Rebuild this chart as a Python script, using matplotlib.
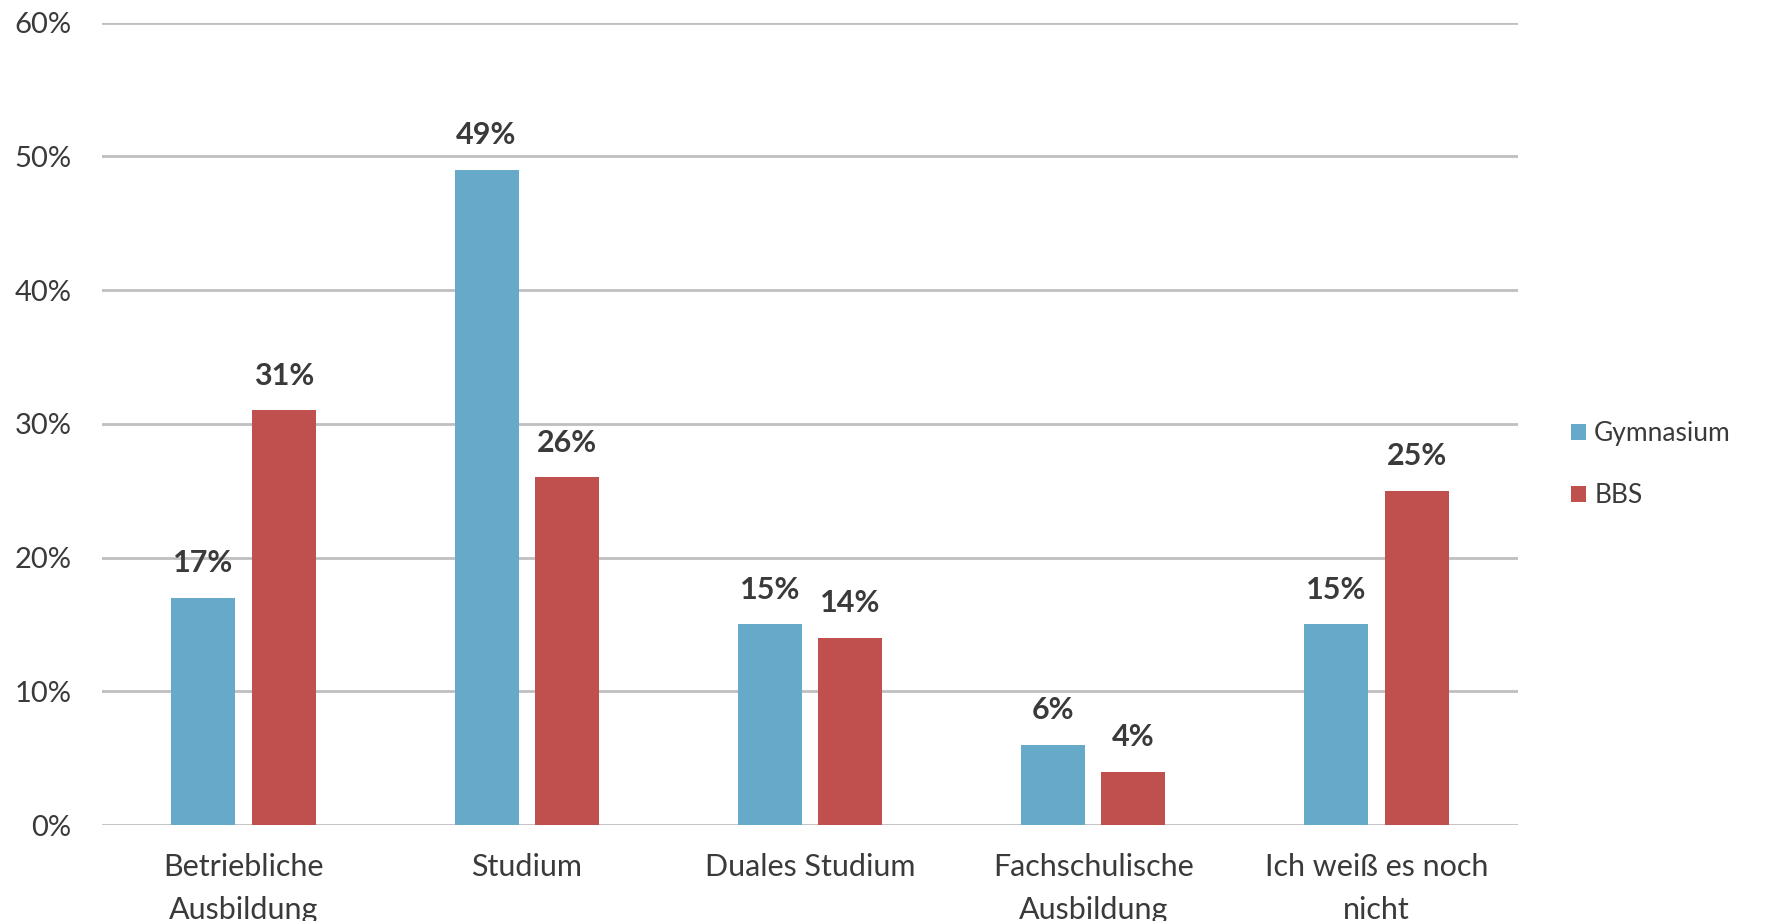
import matplotlib
matplotlib.use("Agg")
import matplotlib.pyplot as plt
import numpy as np

categories = ["Betriebliche\nAusbildung", "Studium", "Duales Studium",
              "Fachschulische\nAusbildung", "Ich weiß es noch\nnicht"]
gymnasium = [17, 49, 15, 6, 15]
bbs = [31, 26, 14, 4, 25]
series_names = ["Gymnasium", "BBS"]
yticks = [0, 10, 20, 30, 40, 50, 60]

plt.rcParams['font.family'] = ['Lato', 'DejaVu Sans']
text_color = '#3A3A3A'
blue = '#67A9C9'
red = '#C0504D'

fig = plt.figure(figsize=(17.79, 9.21), dpi=100)
ax = fig.add_axes([0.0573, 0.1042, 0.796, 0.8712])

x = np.arange(len(categories))
w = 0.226
off = 0.142
b1 = ax.bar(x - off, gymnasium, w, color=blue, label=series_names[0], zorder=3)
b2 = ax.bar(x + off, bbs, w, color=red, label=series_names[1], zorder=3)

for bars, vals in ((b1, gymnasium), (b2, bbs)):
    for r, v in zip(bars, vals):
        ax.annotate(f"{v}%", (r.get_x() + r.get_width() / 2, v),
                    xytext=(0, 25), textcoords='offset points',
                    ha='center', va='center', fontsize=22, fontweight='bold',
                    color=text_color)

ax.set_xlim(-0.5, len(categories) - 0.5)
ax.set_ylim(0, 60)
ax.set_yticks(yticks)
ax.set_yticklabels([f"{t}%" for t in yticks], fontsize=21, color=text_color)
ax.set_xticks(x)
ax.set_xticklabels(categories, fontsize=22, color=text_color, linespacing=1.65)
ax.tick_params(axis='both', length=0)
ax.tick_params(axis='y', pad=22)
ax.tick_params(axis='x', pad=20)
ax.grid(axis='y', color='#BFBFBF', linewidth=2, zorder=0)
for s in ax.spines.values():
    s.set_visible(False)

leg = ax.legend(loc='center left', bbox_to_anchor=(1.0374, 0.449), frameon=False,
                fontsize=19, handlelength=0.58, handleheight=0.58,
                handletextpad=0.3, labelspacing=1.4, borderaxespad=0, borderpad=0)
for t in leg.get_texts():
    t.set_color(text_color)

fig.savefig("out.png", dpi=100)
